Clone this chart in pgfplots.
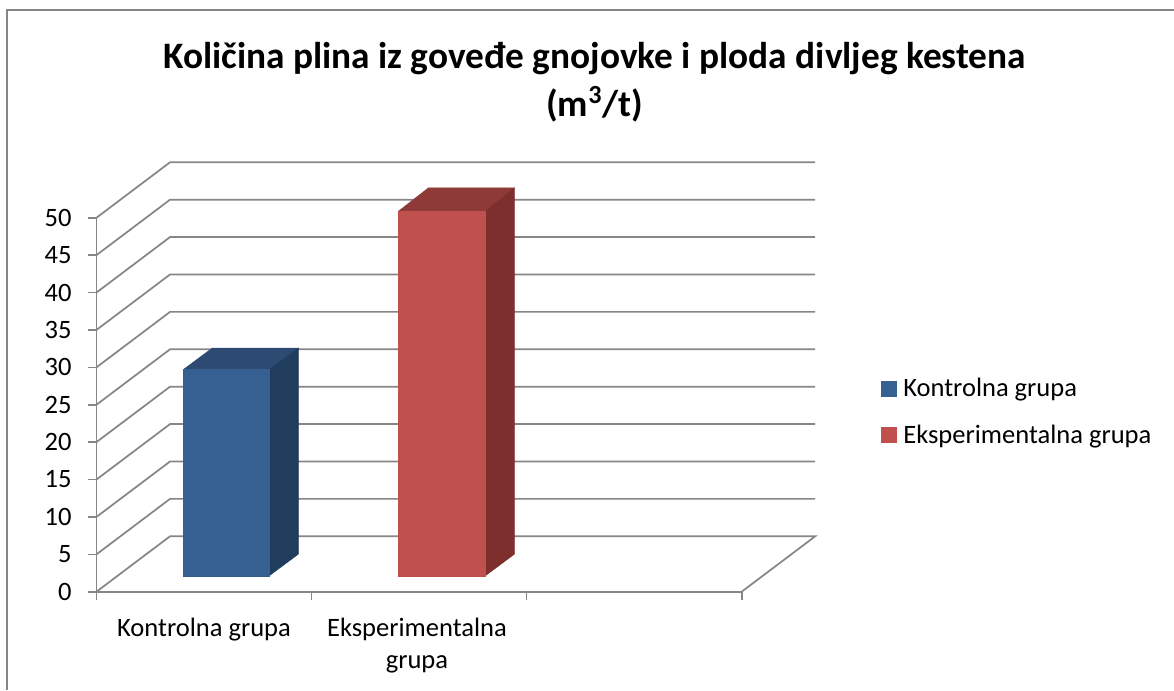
\documentclass[border=0pt]{standalone}
\usepackage{pgfplots}
\pgfplotsset{compat=1.18}
\usepackage{fontspec}
\setmainfont{Carlito}
\definecolor{gridc}{HTML}{868686}
\definecolor{blueF}{HTML}{376092}
\definecolor{blueT}{HTML}{2C4A72}
\definecolor{blueS}{HTML}{203D5E}
\definecolor{redF}{HTML}{C0504D}
\definecolor{redT}{HTML}{8E3A38}
\definecolor{redS}{HTML}{7C2F2D}
\begin{document}
\begin{tikzpicture}[x=0.75pt,y=0.75pt]
\path[use as bounding box] (0,0) rectangle (1174,690);
\draw[gridc,line width=1.3pt] (7,0) -- (7,680) -- (1174,680);
\begin{scope}[x=1cm,y=1cm]
\begin{axis}[
  at={(72.375pt,73.725pt)},anchor=origin,
  scale only axis,
  width=483.9pt,height=280.5pt,
  xmin=0,xmax=3,ymin=0,ymax=50,
  clip=false,
  axis lines=left,
  axis line style={-,gridc,line width=1.3pt},
  xtick={0.5,1.49},
  xticklabels={Kontrolna grupa,{Eksperimentalna\\grupa}},
  x tick label style={align=center,yshift=-10pt,font=\fontsize{19.9}{24}\selectfont,text=black},
  minor xtick={0,1,2,3},
  ytick={0,5,...,50},
  y tick label style={font=\fontsize{19.9}{24}\selectfont,text=black,xshift=-8.75pt},
  /pgf/number format/assume math mode=true,
  tick style={gridc,line width=1.2pt},
  major x tick style={draw=none},
  tick align=outside,
  major tick length=6.5pt,
  minor tick length=6.5pt,
  legend cell align=left,
  legend style={draw=none,fill=none,at={(rel axis cs:1.216,0.571)},anchor=north west,
    font=\fontsize{19.9}{24}\selectfont,row sep=19.5pt,inner sep=0pt,
    nodes={inner xsep=5pt,inner ysep=0pt}},
  legend image code/.code={\fill[#1] (0pt,-5.6pt) rectangle (11.2pt,5.6pt);},
  title style={at={(rel axis cs:0.772,1)},anchor=south,align=center,yshift=62.5pt,
    font=\fontsize{28}{36}\bfseries\selectfont},
  title={Količina plina iz goveđe gnojovke i ploda divljeg kestena\\(m\textsuperscript{3}/t)},
]
% walls
\pgfplotsset{gl/.style={gridc,line width=1.3pt,forget plot}}
\addplot[gl] coordinates {(0,0)(0.3419,7.41)(3.3419,7.41)(3,0)};
\addplot[gl] coordinates {(0,5)(0.3419,12.41)(3.3419,12.41)};
\addplot[gl] coordinates {(0,10)(0.3419,17.41)(3.3419,17.41)};
\addplot[gl] coordinates {(0,15)(0.3419,22.41)(3.3419,22.41)};
\addplot[gl] coordinates {(0,20)(0.3419,27.41)(3.3419,27.41)};
\addplot[gl] coordinates {(0,25)(0.3419,32.41)(3.3419,32.41)};
\addplot[gl] coordinates {(0,30)(0.3419,37.41)(3.3419,37.41)};
\addplot[gl] coordinates {(0,35)(0.3419,42.41)(3.3419,42.41)};
\addplot[gl] coordinates {(0,40)(0.3419,47.41)(3.3419,47.41)};
\addplot[gl] coordinates {(0,45)(0.3419,52.41)(3.3419,52.41)};
\addplot[gl] coordinates {(0,50)(0.3419,57.41)(3.3419,57.41)};
% blue bar
\addplot[draw=blueT,line width=0.3pt,fill=blueT,forget plot] coordinates {(0.4037,29.70)(0.8037,29.70)(0.9386,32.58)(0.5386,32.58)} --cycle;
\addplot[draw=blueS,line width=0.3pt,fill=blueS,forget plot] coordinates {(0.8037,2.136)(0.9386,5.02)(0.9386,32.58)(0.8037,29.70)} --cycle;
\addplot[draw=blueF,line width=0.3pt,fill=blueF] coordinates {(0.4037,2.136)(0.8037,2.136)(0.8037,29.70)(0.4037,29.70)} --cycle;
\addlegendentry{Kontrolna grupa}
% red bar
\addplot[draw=redT,line width=0.3pt,fill=redT,forget plot] coordinates {(1.4037,50.87)(1.8084,50.87)(1.9433,53.99)(1.5433,53.99)} --cycle;
\addplot[draw=redS,line width=0.3pt,fill=redS,forget plot] coordinates {(1.8084,2.136)(1.9433,5.02)(1.9433,53.99)(1.8084,50.87)} --cycle;
\addplot[draw=redF,line width=0.3pt,fill=redF] coordinates {(1.4037,2.136)(1.8084,2.136)(1.8084,50.87)(1.4037,50.87)} --cycle;
\addlegendentry{Eksperimentalna grupa}
\end{axis}
\end{scope}
\end{tikzpicture}
\end{document}
